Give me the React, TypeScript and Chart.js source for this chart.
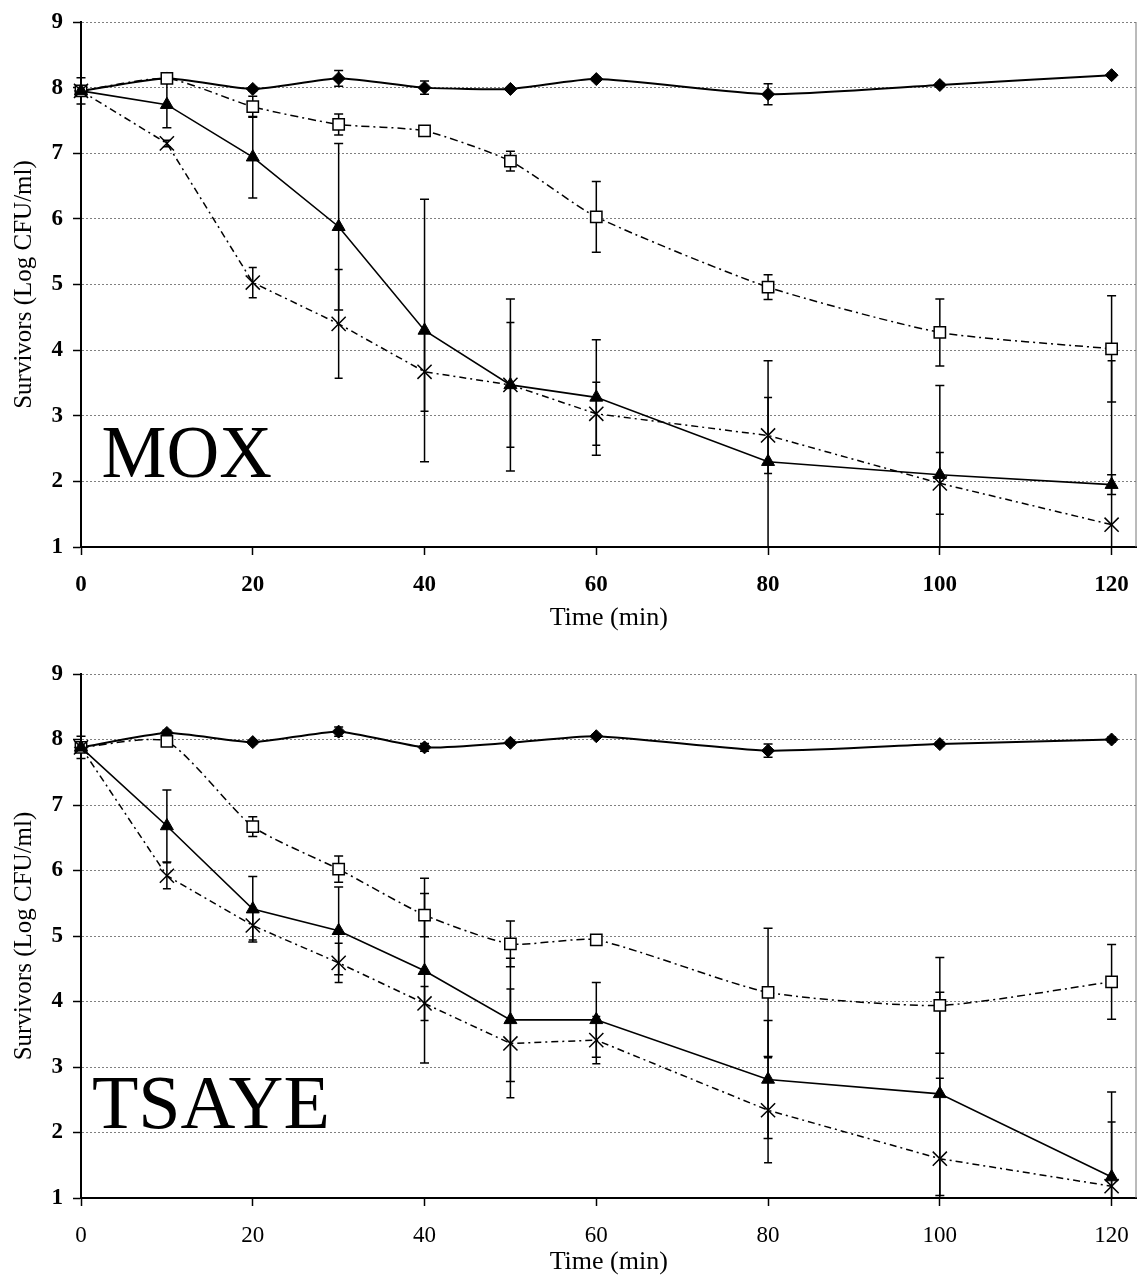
import React, { useEffect, useRef } from 'react';
import { Chart, registerables } from 'chart.js';

Chart.register(...registerables);

const FONT = '"Liberation Serif", "Times New Roman", Times, serif';

const times = [0, 10, 20, 30, 40, 50, 60, 80, 100, 120];
const xTicks = [0, 20, 40, 60, 80, 100, 120];
const yTicks = [1, 2, 3, 4, 5, 6, 7, 8, 9];

// MOX panel
const moxControl = [7.95, 8.14, 7.98, 8.14, 8.0, 7.98, 8.13, 7.9, 8.04, 8.19];
const moxControlErr = [0.2, 0.03, 0.03, 0.12, 0.1, 0.02, 0.03, 0.16, 0.03, 0.03];
const moxSquare = [7.95, 8.14, 7.71, 7.44, 7.34, 6.88, 6.03, 4.96, 4.27, 4.02];
const moxSquareErr = [0.05, 0.03, 0.16, 0.16, 0.07, 0.15, 0.54, 0.19, 0.51, 0.81];
const moxTriangle = [7.95, 7.74, 6.94, 5.88, 4.3, 3.47, 3.28, 2.3, 2.1, 1.95];
const moxTriangleErr = [0.05, 0.35, 0.62, 1.27, 2.0, 1.31, 0.88, 1.54, 1.36, 0.15];
const moxCross = [7.95, 7.15, 5.03, 4.4, 3.67, 3.47, 3.03, 2.7, 1.97, 1.34];
const moxCrossErr = [0.05, 0.05, 0.23, 0.83, 0.6, 0.95, 0.48, 0.58, 0.47, 2.5];

// TSAYE panel
const tsayeControl = [7.88, 8.1, 7.96, 8.12, 7.88, 7.95, 8.05, 7.83, 7.93, 8.0];
const tsayeControlErr = [0.17, 0.04, 0.03, 0.07, 0.06, 0.03, 0.03, 0.1, 0.03, 0.04];
const tsayeSquare = [7.88, 7.97, 6.67, 6.02, 5.32, 4.88, 4.94, 4.14, 3.94, 4.3];
const tsayeSquareErr = [0.05, 0.03, 0.15, 0.2, 0.33, 0.35, 0.07, 0.98, 0.73, 0.57];
const tsayeTriangle = [7.88, 6.68, 5.41, 5.08, 4.47, 3.72, 3.72, 2.81, 2.59, 1.32];
const tsayeTriangleErr = [0.05, 0.55, 0.5, 0.67, 1.41, 0.94, 0.57, 0.9, 1.55, 1.3];
const tsayeCross = [7.88, 5.92, 5.16, 4.59, 3.97, 3.36, 3.41, 2.34, 1.6, 1.18];
const tsayeCrossErr = [0.05, 0.2, 0.22, 0.3, 0.26, 0.83, 0.36, 0.8, 1.23, 0.98];

const toPts = (vals: number[]) => times.map((t, i) => ({ x: t, y: vals[i] }));

function makeDatasets(
  ctrl: number[], ctrlErr: number[],
  sq: number[], sqErr: number[],
  tri: number[], triErr: number[],
  cr: number[], crErr: number[]
) {
  return [
    {
      label: 'cross', data: toPts(cr), errors: crErr, capHalf: 4,
      borderColor: '#000', borderWidth: 1.5, borderDash: [7, 4, 2, 4],
      pointStyle: 'crossRot', pointRadius: 10, pointBorderWidth: 1.5,
      pointBorderColor: '#000', pointBackgroundColor: '#000', tension: 0, clip: false,
    },
    {
      label: 'triangle', data: toPts(tri), errors: triErr, capHalf: 4.5,
      borderColor: '#000', borderWidth: 1.6,
      pointStyle: 'triangle', pointRadius: 7.5, pointBorderWidth: 1,
      pointBorderColor: '#000', pointBackgroundColor: '#000', tension: 0, clip: false,
    },
    {
      label: 'square', data: toPts(sq), errors: sqErr, capHalf: 4.5,
      borderColor: '#000', borderWidth: 1.5, borderDash: [8, 4, 2, 4],
      pointStyle: 'rect', pointRadius: 8, pointBorderWidth: 1.5,
      pointBorderColor: '#000', pointBackgroundColor: '#fff', tension: 0.2, clip: false,
    },
    {
      label: 'control', data: toPts(ctrl), errors: ctrlErr, capHalf: 4.5,
      borderColor: '#000', borderWidth: 2,
      pointStyle: 'rectRot', pointRadius: 6.5, pointBorderWidth: 1,
      pointBorderColor: '#000', pointBackgroundColor: '#000', tension: 0.2, clip: false,
    },
  ];
}

const errorBarPlugin = {
  id: 'errorBars',
  beforeDatasetsDraw(chart: any) {
    const { ctx, chartArea, scales } = chart;
    const x = scales.x;
    const y = scales.y;
    ctx.save();
    ctx.beginPath();
    ctx.rect(0, chartArea.top - 2, chart.width, chartArea.bottom - chartArea.top + 2);
    ctx.clip();
    ctx.strokeStyle = '#000';
    ctx.lineWidth = 1.5;
    chart.data.datasets.forEach((ds: any) => {
      const errs: number[] = ds.errors;
      if (!errs) return;
      const c = ds.capHalf || 4.5;
      ds.data.forEach((p: any, i: number) => {
        const e = errs[i];
        if (!e) return;
        const px = x.getPixelForValue(p.x);
        const top = y.getPixelForValue(p.y + e);
        const bot = y.getPixelForValue(p.y - e);
        ctx.beginPath();
        ctx.moveTo(px, top);
        ctx.lineTo(px, bot);
        ctx.moveTo(px - c, top);
        ctx.lineTo(px + c, top);
        ctx.moveTo(px - c, bot);
        ctx.lineTo(px + c, bot);
        ctx.stroke();
      });
    });
    ctx.restore();
  },
};

const panelPlugin = {
  id: 'panelLabel',
  afterDraw(chart: any, _args: any, opts: any) {
    const { ctx, chartArea, scales } = chart;
    ctx.save();
    ctx.strokeStyle = '#777';
    ctx.lineWidth = 1;
    ctx.beginPath();
    ctx.moveTo(chartArea.right - 0.5, chartArea.top);
    ctx.lineTo(chartArea.right - 0.5, chartArea.bottom);
    ctx.stroke();
    if (opts && opts.text) {
      ctx.fillStyle = '#000';
      ctx.font = `${opts.size}px ${FONT}`;
      ctx.textAlign = 'left';
      ctx.textBaseline = 'alphabetic';
      ctx.fillText(opts.text, scales.x.getPixelForValue(opts.x), scales.y.getPixelForValue(opts.y));
    }
    ctx.restore();
  },
};

type PanelProps = {
  top: number;
  height: number;
  padTop: number;
  axisH: number;
  label: string;
  labelX: number;
  labelY: number;
  labelSize: number;
  boldX: boolean;
  datasets: any[];
};

function Panel({ top, height, padTop, axisH, label, labelX, labelY, labelSize, boldX, datasets }: PanelProps) {
  const ref = useRef<HTMLCanvasElement>(null);
  useEffect(() => {
    if (!ref.current) return;
    const chart = new Chart(ref.current, {
      type: 'line',
      data: { datasets } as any,
      options: {
        animation: false,
        responsive: false,
        maintainAspectRatio: false,
        layout: { padding: { top: padTop, right: 2, left: 0, bottom: 0 } },
        plugins: {
          legend: { display: false },
          tooltip: { enabled: false },
          panelLabel: { text: label, x: labelX, y: labelY, size: labelSize },
        } as any,
        scales: {
          x: {
            type: 'linear',
            min: 0,
            max: 122.9,
            afterBuildTicks: (s: any) => {
              s.ticks = xTicks.map((v) => ({ value: v }));
            },
            afterFit: (s: any) => {
              s.height = axisH;
              s.paddingLeft = 0;
              s.paddingRight = 0;
            },
            grid: {
              display: true,
              drawOnChartArea: false,
              drawTicks: true,
              tickLength: 8,
              tickColor: '#000',
              tickWidth: 1.5,
            },
            border: { display: true, color: '#000', width: 2 },
            ticks: {
              color: '#000',
              font: { family: FONT, size: 23, weight: boldX ? 'bold' : 'normal' },
              padding: 16,
              maxRotation: 0,
              autoSkip: false,
            },
            title: {
              display: true,
              text: 'Time (min)',
              color: '#000',
              font: { family: FONT, size: 26 },
              padding: { top: 0, bottom: 6 },
            },
          },
          y: {
            type: 'linear',
            min: 1,
            max: 9,
            afterBuildTicks: (s: any) => {
              s.ticks = yTicks.map((v) => ({ value: v }));
            },
            afterFit: (s: any) => {
              s.width = 81;
              s.paddingTop = 0;
              s.paddingBottom = 0;
            },
            grid: {
              color: '#808080',
              lineWidth: 1,
              drawTicks: true,
              tickLength: 8,
              tickColor: '#000',
              tickWidth: 1.5,
              tickBorderDash: [],
            },
            border: { display: true, color: '#000', width: 2, dash: [2, 2] },
            ticks: {
              color: '#000',
              font: { family: FONT, size: 23, weight: 'bold' },
              padding: 10,
            },
            title: {
              display: true,
              text: 'Survivors (Log CFU/ml)',
              color: '#000',
              font: { family: FONT, size: 25 },
              padding: { top: 9, bottom: 0 },
            },
          },
        },
      } as any,
      plugins: [errorBarPlugin, panelPlugin],
    });
    return () => chart.destroy();
  }, []);
  return (
    <canvas
      ref={ref}
      width={1148}
      height={height}
      style={{ position: 'absolute', left: 0, top, width: 1148, height, display: 'block' }}
    />
  );
}

export default function App() {
  const moxSets = makeDatasets(
    moxControl, moxControlErr, moxSquare, moxSquareErr,
    moxTriangle, moxTriangleErr, moxCross, moxCrossErr
  );
  const tsayeSets = makeDatasets(
    tsayeControl, tsayeControlErr, tsayeSquare, tsayeSquareErr,
    tsayeTriangle, tsayeTriangleErr, tsayeCross, tsayeCrossErr
  );
  return (
    <div style={{ position: 'absolute', left: 0, top: 0, width: 1148, height: 1284, background: '#fff' }}>
      <Panel top={0} height={640} padTop={22} axisH={93} label="MOX" labelX={2.4} labelY={2.07} labelSize={73} boldX={true} datasets={moxSets} />
      <Panel top={640} height={644} padTop={34} axisH={86} label="TSAYE" labelX={1.27} labelY={2.07} labelSize={76} boldX={false} datasets={tsayeSets} />
    </div>
  );
}
